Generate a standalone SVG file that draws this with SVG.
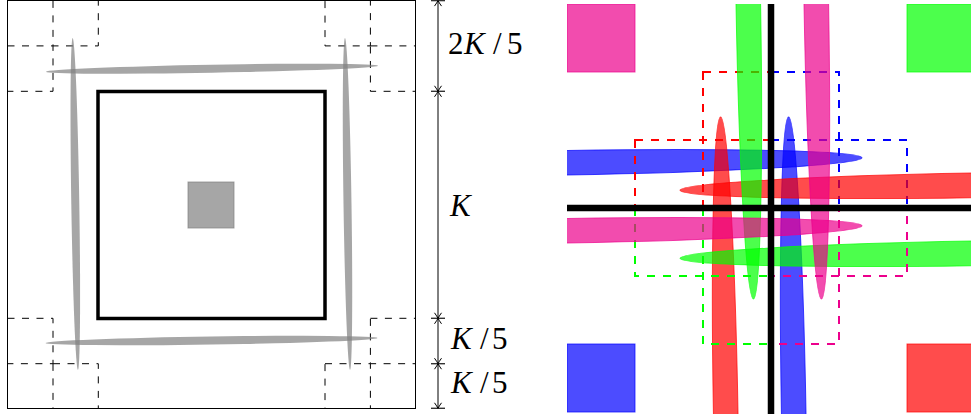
<svg xmlns="http://www.w3.org/2000/svg" width="971" height="414" viewBox="0 0 971 414">
  <defs>
    <style>
      .frame{fill:#fff;stroke:#000;stroke-width:1}
      .dl{fill:none;stroke:#000;stroke-width:1;stroke-dasharray:7 7.5}
      .needle{fill:#808080;fill-opacity:.7;stroke:none}
      .gsq{fill:#808080;fill-opacity:.7;stroke:#808080;stroke-opacity:.7;stroke-width:1}
      .dim{fill:none;stroke:#000;stroke-width:1}
      .tick{stroke:#333;stroke-width:1.4}
      .lbl{font-family:"Liberation Serif","Times New Roman",serif;font-size:31px;fill:#000}
      .it{font-style:italic}
      .dr{fill:none;stroke-width:2;stroke-dasharray:8 8}
      .sh{stroke-width:1;fill-opacity:.7;stroke-opacity:.7}
      .b{fill:#0000ff;stroke:#0000ff}
      .r{fill:#ff0000;stroke:#ff0000}
      .g{fill:#00ff00;stroke:#00ff00}
      .m{fill:#ec008c;stroke:#ec008c}
      .bd{stroke:#0000ff}.rd{stroke:#ff0000}.gd{stroke:#00ff00}.md{stroke:#ec008c}
      .cross{stroke:#000;stroke-width:6.5}
    </style>
    <clipPath id="lclip"><rect x="7.5" y="0.5" width="408" height="408"/></clipPath>
    <clipPath id="rclip"><rect x="567" y="4" width="408" height="410"/></clipPath>
    <path id="ah" d="M-3.5,5.5 Q-1,2 0,0 Q1,2 3.5,5.5" fill="none" stroke="#000" stroke-width="1"/>
  </defs>

  <!-- Left panel -->
  <g id="left-panel">
    <rect class="frame" x="7.5" y="0.5" width="408" height="408"/>
    <g id="corner-squares" clip-path="url(#lclip)">
      <rect class="dl" x="53" y="0.5" width="45.3" height="45.4"/>
      <rect class="dl" x="7.5" y="45.9" width="45.5" height="45.4"/>
      <rect class="dl" x="325" y="0.5" width="45.4" height="45.4"/>
      <rect class="dl" x="370.4" y="45.9" width="45.4" height="45.4"/>
      <rect class="dl" x="7.5" y="318.3" width="45.5" height="45.4"/>
      <rect class="dl" x="53" y="363.7" width="45.3" height="45.3"/>
      <rect class="dl" x="370.4" y="318.3" width="45.4" height="45.4"/>
      <rect class="dl" x="325" y="363.7" width="45.4" height="45.3"/>
    </g>
    <rect id="inner-square" x="98" y="91.5" width="227" height="227" fill="none" stroke="#000" stroke-width="3.5"/>
    <g id="gray-needles">
      <ellipse class="needle" cx="212" cy="68.7" rx="166" ry="4" transform="rotate(-1.04 212 68.7)"/>
      <ellipse class="needle" cx="211.5" cy="340.5" rx="166" ry="4" transform="rotate(-0.87 211.5 340.5)"/>
      <ellipse class="needle" cx="75.3" cy="204" rx="4" ry="166" transform="rotate(-0.91 75.3 204)"/>
      <ellipse class="needle" cx="347.5" cy="204" rx="4" ry="166" transform="rotate(-0.87 347.5 204)"/>
    </g>
    <rect id="gray-square" class="gsq" x="188" y="182" width="46" height="46"/>
  </g>

  <!-- Dimension line -->
  <g id="dimensions">
    <line class="dim" x1="438" y1="0.5" x2="438" y2="408.5"/>
    <line class="tick" x1="431" y1="0.6" x2="445" y2="0.6"/>
    <line class="tick" x1="431" y1="91.3" x2="445" y2="91.3"/>
    <line class="tick" x1="431" y1="318.3" x2="445" y2="318.3"/>
    <line class="tick" x1="431" y1="363.7" x2="445" y2="363.7"/>
    <line class="tick" x1="431" y1="408.3" x2="445" y2="408.3"/>
    <use href="#ah" transform="translate(438 0.6)"/>
    <use href="#ah" transform="translate(438 91.3) scale(1 -1)"/>
    <use href="#ah" transform="translate(438 91.3)"/>
    <use href="#ah" transform="translate(438 318.3) scale(1 -1)"/>
    <use href="#ah" transform="translate(438 318.3)"/>
    <use href="#ah" transform="translate(438 363.7) scale(1 -1)"/>
    <use href="#ah" transform="translate(438 363.7)"/>
    <use href="#ah" transform="translate(438 408.3) scale(1 -1)"/>
    <text class="lbl" y="53.5"><tspan x="448">2</tspan><tspan class="it" x="464">K</tspan><tspan x="493">/</tspan><tspan x="507">5</tspan></text>
    <text class="lbl" y="216"><tspan class="it" x="450">K</tspan></text>
    <text class="lbl" y="349"><tspan class="it" x="451">K</tspan><tspan x="480">/</tspan><tspan x="492">5</tspan></text>
    <text class="lbl" y="393"><tspan class="it" x="451">K</tspan><tspan x="480">/</tspan><tspan x="492">5</tspan></text>
  </g>

  <!-- Right panel -->
  <g id="right-panel" clip-path="url(#rclip)">
    <g id="blue">
      <rect class="sh b" x="567" y="344" width="68" height="68"/>
      <rect class="dr bd" x="771" y="72" width="68" height="136"/>
      <rect class="dr bd" x="771" y="140" width="136" height="68"/>
      <ellipse class="sh b" cx="567" cy="162.7" rx="295" ry="12.3" transform="rotate(-0.97 567 162.7)"/>
      <ellipse class="sh b" cx="793.7" cy="412" rx="12.3" ry="295" transform="rotate(-1 793.7 412)"/>
    </g>
    <g id="red">
      <rect class="sh r" x="907" y="344" width="68" height="68"/>
      <rect class="dr rd" x="703" y="72" width="68" height="136"/>
      <rect class="dr rd" x="635" y="140" width="136" height="68"/>
      <ellipse class="sh r" cx="975" cy="185.3" rx="295" ry="12.3" transform="rotate(-0.97 975 185.3)"/>
      <ellipse class="sh r" cx="725.7" cy="412" rx="12.3" ry="295" transform="rotate(-1 725.7 412)"/>
    </g>
    <g id="green">
      <rect class="sh g" x="907" y="4" width="68" height="68"/>
      <rect class="dr gd" x="635" y="208" width="136" height="68"/>
      <rect class="dr gd" x="703" y="208" width="68" height="136"/>
      <ellipse class="sh g" cx="975" cy="253.3" rx="295" ry="12.3" transform="rotate(-0.97 975 253.3)"/>
      <ellipse class="sh g" cx="748.3" cy="4" rx="12.3" ry="295" transform="rotate(-1 748.3 4)"/>
    </g>
    <g id="magenta">
      <rect class="sh m" x="567" y="4" width="68" height="68"/>
      <rect class="dr md" x="771" y="208" width="136" height="68"/>
      <rect class="dr md" x="771" y="208" width="68" height="136"/>
      <ellipse class="sh m" cx="567" cy="230.7" rx="295" ry="12.3" transform="rotate(-0.97 567 230.7)"/>
      <ellipse class="sh m" cx="816.3" cy="4" rx="12.3" ry="295" transform="rotate(-1 816.3 4)"/>
    </g>
    <g id="cross">
      <line class="cross" x1="771" y1="4" x2="771" y2="414"/>
      <line class="cross" x1="567" y1="208" x2="975" y2="208"/>
    </g>
  </g>
</svg>
